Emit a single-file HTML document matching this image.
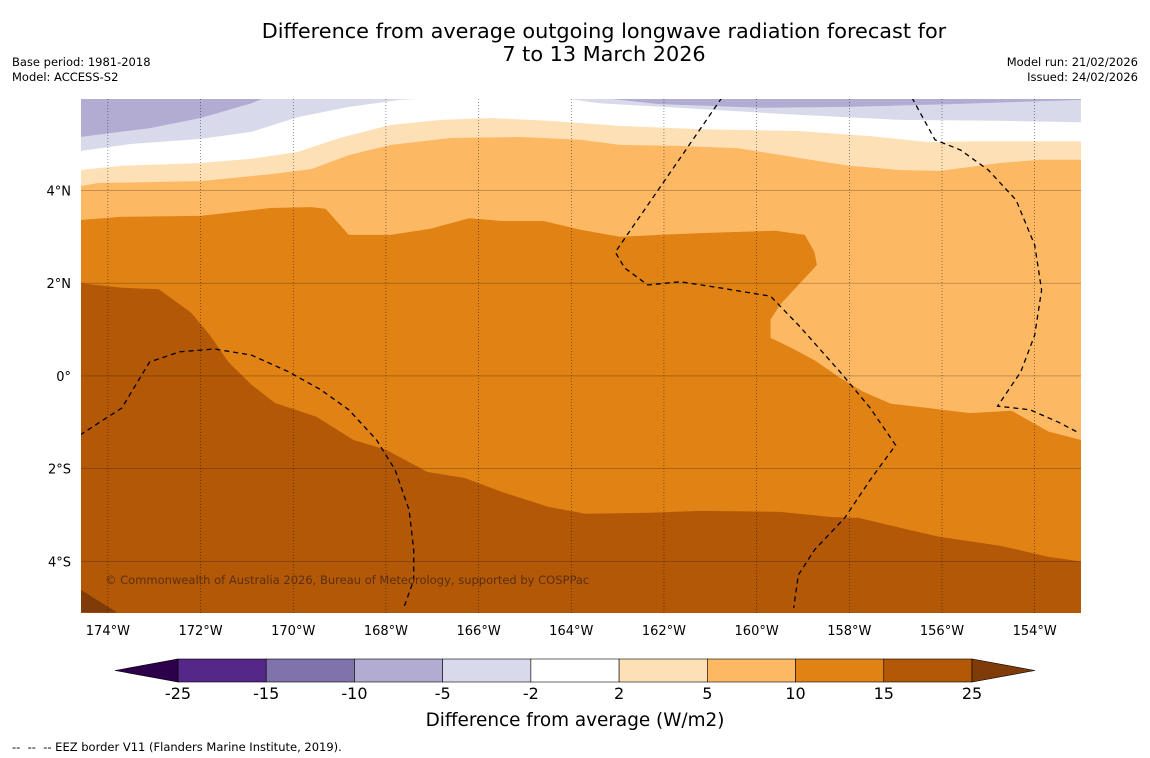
<!DOCTYPE html>
<html><head><meta charset="utf-8">
<style>
html,body{margin:0;padding:0;background:#fff;}
svg{display:block;font-family:"DejaVu Sans","Liberation Sans",sans-serif;}
</style></head>
<body>
<svg id="chart" width="1150" height="758" viewBox="0 0 1150 758" xmlns="http://www.w3.org/2000/svg">
<rect width="1150" height="758" fill="#fff"/>
<text x="604" y="38" font-size="20.8" text-anchor="middle" fill="#000">Difference from average outgoing longwave radiation forecast for</text>
<text x="604" y="61" font-size="20.8" text-anchor="middle" fill="#000">7 to 13 March 2026</text>
<text x="12" y="66" font-size="11.5" fill="#000">Base period: 1981-2018</text>
<text x="12" y="81" font-size="11.5" fill="#000">Model: ACCESS-S2</text>
<text x="1138" y="66" font-size="11.5" text-anchor="end" fill="#000">Model run: 21/02/2026</text>
<text x="1138" y="81" font-size="11.5" text-anchor="end" fill="#000">Issued: 24/02/2026</text>
<g id="map"></g>
<g id="axes"></g>
<g id="cbar"></g>
<text x="575" y="726" font-size="18.4" text-anchor="middle" fill="#000">Difference from average (W/m2)</text>
<text x="12" y="751" font-size="11.5" fill="#000" xml:space="preserve">--  --  -- EEZ border V11 (Flanders Marine Institute, 2019).</text>
</svg>
<script>
// ---- data ----
const lonTicks=[-174,-172,-170,-168,-166,-164,-162,-160,-158,-156,-154];
const lonTickLabels=["174°W","172°W","170°W","168°W","166°W","164°W","162°W","160°W","158°W","156°W","154°W"];
const latTicks=[4,2,0,-2,-4];
const latTickLabels=["4°N","2°N","0°","2°S","4°S"];
const cbarLevels=["-25","-15","-10","-5","-2","2","5","10","15","25"];
const cbarColors=["#542788","#8073ac","#b2abd2","#d8daeb","#ffffff","#fee0b6","#fdb863","#e08214","#b35806"];
const cbarExtendColors=["#2d004b","#7f3b08"];
// contour boundaries [lon,lat]; region above each boundary gets the color
const bndOrange=[[-174.6,2.0],[-173.7,1.9],[-172.9,1.87],[-172.2,1.36],[-171.8,0.88],[-171.4,0.3],[-170.9,-0.19],[-170.4,-0.58],[-169.5,-0.88],[-168.7,-1.38],[-168.0,-1.59],[-167.1,-2.07],[-166.3,-2.2],[-165.5,-2.5],[-164.5,-2.82],[-163.7,-2.97],[-162.3,-2.95],[-161.2,-2.91],[-159.5,-2.93],[-158.4,-3.04],[-157.8,-3.06],[-156.7,-3.32],[-156.05,-3.47],[-154.75,-3.66],[-153.7,-3.9],[-153.0,-4.0]];
const bndLightOrange=[[-174.6,3.36],[-173.7,3.43],[-172.0,3.45],[-170.5,3.62],[-169.6,3.64],[-169.3,3.6],[-168.8,3.04],[-167.9,3.04],[-167.05,3.17],[-166.2,3.4],[-165.5,3.34],[-164.6,3.34],[-163.8,3.15],[-162.95,3.0],[-162.1,3.04],[-161.2,3.08],[-159.6,3.13],[-158.96,3.04],[-158.75,2.67],[-158.7,2.39],[-159.1,1.96],[-159.5,1.53],[-159.7,1.21],[-159.7,0.82],[-159.3,0.63],[-158.75,0.34],[-158.2,-0.04],[-157.7,-0.34],[-157.1,-0.6],[-156.3,-0.69],[-155.4,-0.8],[-154.5,-0.75],[-153.7,-1.2],[-153.0,-1.38]];
const bndPeach=[[-174.6,4.09],[-174.2,4.16],[-172.0,4.2],[-170.5,4.35],[-169.6,4.46],[-168.8,4.76],[-167.9,4.98],[-166.6,5.13],[-165.1,5.15],[-163.8,5.09],[-162.95,4.98],[-161.7,4.96],[-160.4,4.91],[-159.1,4.7],[-158.0,4.53],[-156.9,4.44],[-156.05,4.42],[-154.75,4.59],[-153.9,4.66],[-153.0,4.66]];
const bndWhite=[[-174.6,4.44],[-173.7,4.53],[-172.0,4.59],[-170.9,4.68],[-169.9,4.83],[-169.0,5.13],[-167.9,5.41],[-166.8,5.52],[-165.75,5.56],[-164.5,5.5],[-162.95,5.39],[-161.2,5.32],[-159.1,5.28],[-157.55,5.17],[-156.3,5.04],[-155.2,5.06],[-153.9,5.06],[-153.0,5.06]];
const bndPaleW=[[-174.6,4.85],[-173.5,5.0],[-172.0,5.11],[-170.9,5.26],[-169.9,5.58],[-168.8,5.8],[-167.7,5.95],[-166.8,6.0]];
const bndPaleE=[[-164.25,6.0],[-163.4,5.88],[-161.7,5.78],[-159.1,5.63],[-156.9,5.52],[-154.75,5.5],[-153.0,5.47]];
const bndLavW=[[-174.6,5.15],[-173.1,5.34],[-172.0,5.56],[-170.9,5.88],[-170.6,6.0]];
const bndLavE=[[-163.4,6.0],[-162.1,5.86],[-159.9,5.78],[-158.0,5.8],[-155.8,5.86],[-153.0,5.95]];
const darkPatch=[[-174.6,-4.6],[-174.6,-5.1],[-173.8,-5.1]];
const eezWest=[[-174.6,-1.27],[-173.7,-0.69],[-173.1,0.3],[-172.45,0.52],[-171.7,0.58],[-170.9,0.45],[-170.1,0.09],[-169.4,-0.3],[-168.8,-0.73],[-168.2,-1.38],[-167.8,-2.03],[-167.5,-2.89],[-167.4,-3.75],[-167.4,-4.4],[-167.6,-4.96]];
const eezCentral=[[-160.75,6.0],[-163.05,2.67],[-162.85,2.33],[-162.35,1.96],[-161.65,2.03],[-160.8,1.9],[-159.7,1.72],[-159.1,1.1],[-158.2,0.09],[-157.55,-0.69],[-157.0,-1.49],[-157.55,-2.24],[-158.1,-3.06],[-158.75,-3.75],[-159.1,-4.29],[-159.2,-5.0]];
const eezEast=[[-156.65,6.0],[-156.15,5.09],[-155.6,4.87],[-155.0,4.44],[-154.4,3.79],[-154.0,2.82],[-153.85,1.85],[-154.0,0.88],[-154.3,0.09],[-154.8,-0.65],[-154.1,-0.73],[-153.5,-0.99],[-153.1,-1.2]];

// ---- scales ----
const NS="http://www.w3.org/2000/svg";
const X0=81,X1=1081,Y0=99,Y1=613;
const lonMin=-174.58,lonMax=-153.0,latMin=-5.11,latMax=5.97;
function sx(lon){return X0+(lon-lonMin)/(lonMax-lonMin)*(X1-X0);}
function sy(lat){return Y0+(latMax-lat)/(latMax-latMin)*(Y1-Y0);}
function mk(tag,attrs,parent){const e=document.createElementNS(NS,tag);for(const k in attrs)e.setAttribute(k,attrs[k]);parent.appendChild(e);return e;}
const map=document.getElementById('map');
const axes=document.getElementById('axes');
const cbar=document.getElementById('cbar');
const defs=mk('defs',{},map);
const cp=mk('clipPath',{id:'mclip'},defs);
mk('rect',{x:X0,y:Y0,width:X1-X0,height:Y1-Y0},cp);
const g=mk('g',{'clip-path':'url(#mclip)'},map);

const base=mk('rect',{x:X0,y:Y0,width:X1-X0,height:Y1-Y0,fill:'#b35806'},g);



function above(pts,color,name){
  let s=pts.map(p=>sx(p[0]).toFixed(1)+','+sy(p[1]).toFixed(1));
  const last=pts[pts.length-1],first=pts[0];
  s.push(sx(last[0]).toFixed(1)+','+(Y0-5));
  s.push(sx(first[0]).toFixed(1)+','+(Y0-5));
  const p=mk('polygon',{points:s.join(' '),fill:color},g);
  
  
}
above(bndOrange,'#e08214','anomaly-10-15-band');
above(bndLightOrange,'#fdb863','anomaly-5-10-band');
above(bndPeach,'#fee0b6','anomaly-2-5-band');
above(bndWhite,'#ffffff','anomaly-neutral-band');
above(bndPaleW,'#d8daeb','anomaly-neg2-neg5-band-west');
above(bndPaleE,'#d8daeb','anomaly-neg2-neg5-band-east');
above(bndLavW,'#b2abd2','anomaly-neg5-neg10-band-west');
above(bndLavE,'#b2abd2','anomaly-neg5-neg10-band-east');
const dp=mk('polygon',{points:darkPatch.map(p=>sx(p[0])+','+sy(p[1])).join(' '),fill:'#7f3b08'},g);



// grid
lonTicks.forEach((lon,i)=>{
  const l=mk('line',{x1:sx(lon),x2:sx(lon),y1:Y0,y2:Y1,stroke:'#000','stroke-width':0.6,'stroke-dasharray':'1,2','stroke-opacity':0.7},g);
  
  
  const t=mk('text',{x:sx(lon),y:Y1+22,'font-size':13,'text-anchor':'middle',fill:'#000'},axes);
  t.textContent=lonTickLabels[i];
  
  
});
latTicks.forEach((lat,i)=>{
  const l=mk('line',{x1:X0,x2:X1,y1:sy(lat),y2:sy(lat),stroke:'#000','stroke-width':0.5,'stroke-opacity':0.45},g);
  
  
  const t=mk('text',{x:X0-10,y:sy(lat)+5,'font-size':13,'text-anchor':'end',fill:'#000'},axes);
  t.textContent=latTickLabels[i];
  
  
});

// EEZ lines
[[eezWest,'eez-border-west'],[eezCentral,'eez-border-central'],[eezEast,'eez-border-east']].forEach(([pts,name])=>{
  const pl=mk('polyline',{points:pts.map(p=>sx(p[0]).toFixed(1)+','+sy(p[1]).toFixed(1)).join(' '),fill:'none',stroke:'#000','stroke-width':1.3,'stroke-dasharray':'5,4'},g);
  
  
});

// copyright
const cr=mk('text',{x:105,y:584,'font-size':11.5,fill:'#5a3010'},g);
cr.textContent='© Commonwealth of Australia 2026, Bureau of Meteorology, supported by COSPPac';



// colorbar
const CB0=178,CB1=972,CBy=659,CBh=23;
const bw=(CB1-CB0)/cbarColors.length;
cbarColors.forEach((c,i)=>{
  const r=mk('rect',{x:CB0+i*bw,y:CBy,width:bw,height:CBh,fill:c,stroke:'#000','stroke-width':0.6},cbar);
  
  
});
const tl=mk('polygon',{points:`${CB0},${CBy} ${CB0},${CBy+CBh} 115,${CBy+CBh/2}`,fill:cbarExtendColors[0],stroke:'#000','stroke-width':0.6},cbar);


const tr=mk('polygon',{points:`${CB1},${CBy} ${CB1},${CBy+CBh} 1035,${CBy+CBh/2}`,fill:cbarExtendColors[1],stroke:'#000','stroke-width':0.6},cbar);


cbarLevels.forEach((lv,i)=>{
  const t=mk('text',{x:CB0+i*bw,y:699,'font-size':16,'text-anchor':'middle',fill:'#000'},cbar);
  t.textContent=lv;
  
  
});
</script>
</body></html>
